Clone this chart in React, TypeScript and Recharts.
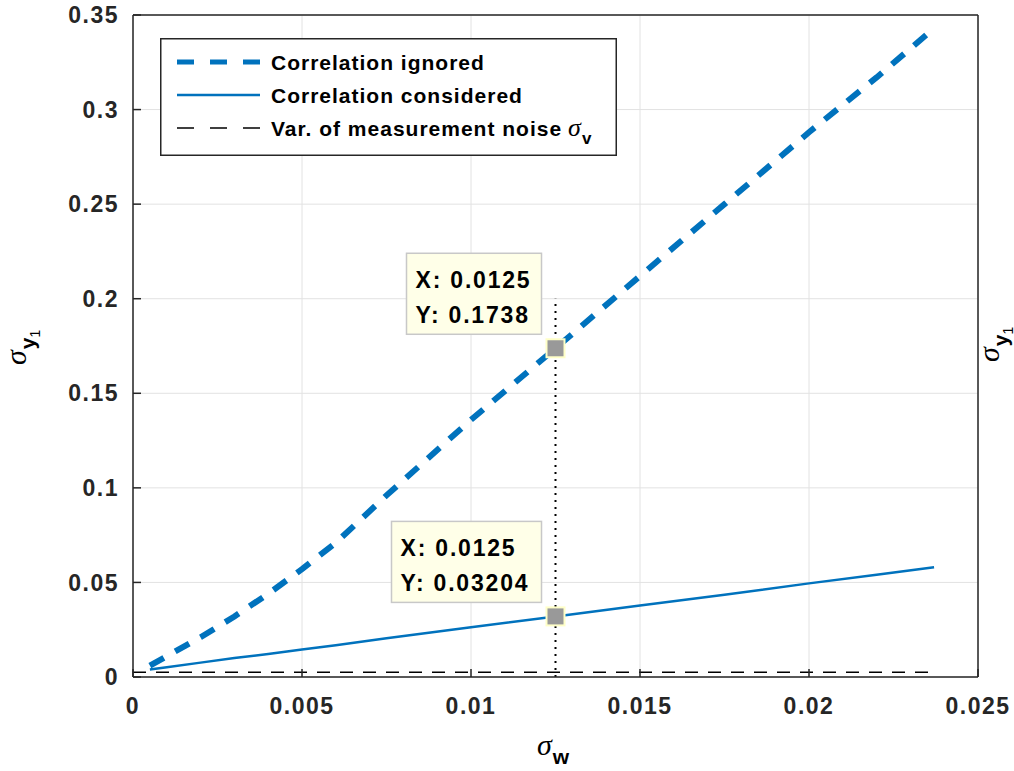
import React from "react";
import { LineChart, Line, XAxis, YAxis, CartesianGrid, ReferenceLine, ReferenceDot, Legend } from "recharts";

const FONT = "'Liberation Sans', Arial, Helvetica, sans-serif";
const SERIF = "'Liberation Serif', 'Times New Roman', serif";

// sigma_w samples
const xs = [0.0005, 0.001, 0.002, 0.003, 0.004, 0.005, 0.006, 0.0075, 0.01, 0.0125, 0.015, 0.0175, 0.02, 0.022, 0.0237];
const ignored = [0.006, 0.011, 0.021, 0.032, 0.044, 0.057, 0.071, 0.096, 0.136, 0.1738, 0.212, 0.25, 0.288, 0.317, 0.343];
const considered = [0.004, 0.0052, 0.0076, 0.01, 0.0122, 0.0145, 0.0168, 0.0205, 0.0263, 0.03204, 0.0378, 0.0435, 0.0495, 0.054, 0.058];
const noiseXs = [0, 0.0237];
const noise = [0.0025, 0.0025];

const xTicks = [0, 0.005, 0.01, 0.015, 0.02, 0.025];
const yTicks = [0, 0.05, 0.1, 0.15, 0.2, 0.25, 0.3, 0.35];

const tipXs = [0.0125, 0.0125];
const tipYs = [0.1738, 0.03204];
const guideTop = 0.2;

const names = ["Correlation ignored", "Correlation considered", "Var. of measurement noise"];

const ignoredData = xs.map((x, i) => ({ x, y: ignored[i] }));
const consideredData = xs.map((x, i) => ({ x, y: considered[i] }));
const noiseData = noiseXs.map((x, i) => ({ x, y: noise[i] }));

const BLUE = "#0072BD";
const AXIS = "#262626";

const legendStyle: Record<string, { stroke: string; w: number; dash?: string }> = {
    [names[0]]: { stroke: BLUE, w: 5, dash: "17 16" },
    [names[1]]: { stroke: BLUE, w: 2.5 },
    [names[2]]: { stroke: "#000", w: 1.5, dash: "17 16" },
};

const renderLegend = (props: any) => {
    const payload = [...(props.payload || [])].sort((a: any, b: any) => names.indexOf(a.value) - names.indexOf(b.value));
    return (
        <svg width={457} height={118} style={{ display: "block" }}>
            <rect x={0.75} y={0.75} width={455.5} height={116.5} fill="#fff" stroke={AXIS} strokeWidth={1.5} />
            {payload.map((p: any, i: number) => {
                const s = legendStyle[p.value] || { stroke: p.color, w: 2 };
                const cy = 24 + i * 33;
                return (
                    <g key={p.value}>
                        <line x1={17} x2={100} y1={cy} y2={cy} stroke={s.stroke} strokeWidth={s.w} strokeDasharray={s.dash} />
                        <text x={111} y={cy + 7.5} fontFamily={FONT} fontSize={21} fontWeight="bold" letterSpacing={1} fill="#000">
                            {p.value}
                            {p.value === names[2] && (
                                <>
                                    <tspan fontFamily={SERIF} fontStyle="italic" fontWeight="normal" fontSize={26} dx={6}>σ</tspan>
                                    <tspan fontSize={17} dy={8} letterSpacing={0}>v</tspan>
                                </>
                            )}
                        </text>
                    </g>
                );
            })}
        </svg>
    );
};

const tipMarker = (xv: number, yv: number) => (props: any) => {
    const { cx, cy } = props;
    const lines = [`X: ${xv}`, `Y: ${yv}`];
    const w = 15 * Math.max(...lines.map(l => l.length));
    const left = cx - 14 - w;
    return (
        <g>
            <rect x={left} y={cy - 95} width={w} height={81} fill="#ffffe8" stroke="#c8c8c8" strokeWidth={1.5} />
            {lines.map((l, i) => (
                <text key={l} x={left + 9} y={cy - 60 + i * 35} fontFamily={FONT} fontSize={23} fontWeight="bold" letterSpacing={1.8} fill="#000">
                    {l}
                </text>
            ))}
            <rect x={cx - 9} y={cy - 9} width={18} height={18} fill="#999999" stroke="#ffffc8" strokeWidth={2} />
        </g>
    );
};

const tickStyle = { fill: AXIS, fontFamily: FONT, fontSize: 23, fontWeight: "bold", letterSpacing: 1.5 } as any;

const sigmaLabel = (sub: string, subsub: string | null, rotate: boolean, dx: number, dy: number) => (props: any) => {
    const vb = props.viewBox || {};
    const x = vb.x + dx;
    const y = vb.y + dy;
    return (
        <text x={x} y={y} transform={rotate ? `rotate(-90, ${x}, ${y})` : undefined} fill="#000">
            <tspan fontFamily={SERIF} fontStyle="italic" fontSize={30}>σ</tspan>
            <tspan fontFamily={FONT} fontWeight="bold" fontSize={21} dy={9} dx={1}>{sub}</tspan>
            {subsub && <tspan fontFamily={FONT} fontSize={14} dy={5}>{subsub}</tspan>}
        </text>
    );
};

export default function App() {
    return (
        <div style={{ position: "absolute", left: 0, top: 0, background: "#fff" }}>
            <LineChart width={1014} height={771} margin={{ top: 0, right: 0, bottom: 0, left: 0 }}>
                <CartesianGrid stroke="#e2e2e2" strokeWidth={1} />
                <XAxis
                    dataKey="x"
                    type="number"
                    domain={[0, 0.025]}
                    ticks={xTicks}
                    allowDataOverflow
                    height={94}
                    tickSize={-8}
                    tickMargin={29}
                    tick={tickStyle}
                    stroke={AXIS}
                    strokeWidth={1.5}
                    tickFormatter={(v: number) => String(v)}
                    label={{ content: sigmaLabel("w", null, false, 404, 78) }}
                />
                <XAxis
                    xAxisId="top"
                    orientation="top"
                    dataKey="x"
                    type="number"
                    domain={[0, 0.025]}
                    ticks={xTicks}
                    height={15}
                    tickSize={-8}
                    stroke={AXIS}
                    strokeWidth={1.5}
                    tickFormatter={() => ""}
                    label={{ content: sigmaLabel("v", null, false, 341, -10) }}
                />
                <YAxis
                    type="number"
                    domain={[0, 0.35]}
                    ticks={yTicks}
                    allowDataOverflow
                    width={133}
                    tickSize={-8}
                    tickMargin={22}
                    tick={tickStyle}
                    stroke={AXIS}
                    strokeWidth={1.5}
                    tickFormatter={(v: number) => String(v)}
                    label={{ content: sigmaLabel("y", "1", true, 26, 350) }}
                />
                <YAxis
                    yAxisId="right"
                    orientation="right"
                    type="number"
                    domain={[0, 0.35]}
                    ticks={yTicks}
                    width={36}
                    tickSize={-8}
                    stroke={AXIS}
                    strokeWidth={1.5}
                    tickFormatter={() => ""}
                    label={{ content: sigmaLabel("y", "1", true, 21, 347) }}
                />
                <Legend
                    content={renderLegend}
                    layout="vertical"
                    align="center"
                    verticalAlign="middle"
                    wrapperStyle={{ left: 160, top: 38, width: 457, height: 118 }}
                />
                <Line data={ignoredData} dataKey="y" name={names[0]} stroke={BLUE} strokeWidth={6} strokeDasharray="16 13" dot={false} activeDot={false} isAnimationActive={false} />
                <Line data={consideredData} dataKey="y" name={names[1]} stroke={BLUE} strokeWidth={2.5} dot={false} activeDot={false} isAnimationActive={false} />
                <Line data={noiseData} dataKey="y" name={names[2]} stroke="#000" strokeWidth={1.5} strokeDasharray="13 10" dot={false} activeDot={false} isAnimationActive={false} />
                <ReferenceLine
                    segment={[{ x: tipXs[0], y: 0 }, { x: tipXs[0], y: guideTop }]}
                    stroke="#000"
                    strokeWidth={2}
                    strokeDasharray="2 5"
                />
                {tipXs.map((x, i) => (
                    <ReferenceDot key={i} x={x} y={tipYs[i]} r={9} shape={tipMarker(x, tipYs[i])} />
                ))}
            </LineChart>
        </div>
    );
}
